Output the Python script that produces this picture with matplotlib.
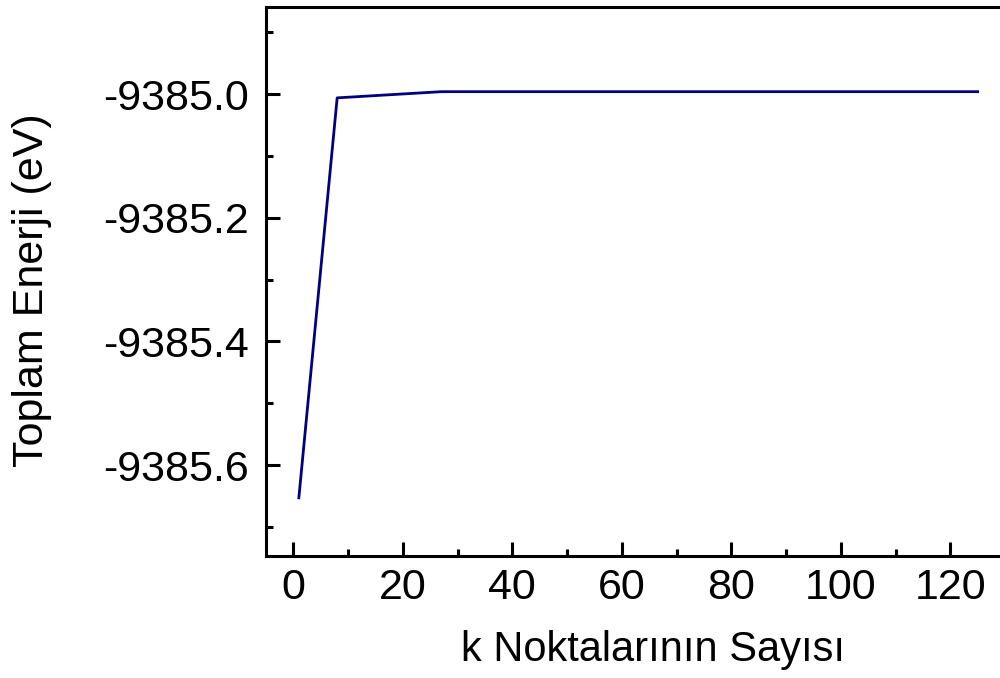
import matplotlib
matplotlib.use('Agg')
import matplotlib.pyplot as plt
from matplotlib.ticker import MultipleLocator, FormatStrFormatter

# toplam enerji vs k noktasi sayisi
k_points = [1, 8, 27, 64, 125]
energy = [-9385.653, -9385.006, -9384.996, -9384.996, -9384.996]

plt.rcParams['font.family'] = ['Liberation Sans', 'DejaVu Sans']

fig = plt.figure(figsize=(10, 6.78), dpi=100)
ax = fig.add_axes([0.266, 0.18, 0.739, 0.8097])

ax.plot(k_points, energy, color='#000080', linewidth=2.0)

ax.set_xlim(-5, 130)
ax.set_ylim(-9385.747, -9384.859)
ax.xaxis.set_major_locator(MultipleLocator(20))
ax.xaxis.set_minor_locator(MultipleLocator(10))
ax.yaxis.set_major_locator(MultipleLocator(0.2))
ax.yaxis.set_minor_locator(MultipleLocator(0.1))
ax.yaxis.set_major_formatter(FormatStrFormatter('%.1f'))

for s in ax.spines.values():
    s.set_linewidth(2.2)
ax.tick_params(which='major', direction='in', length=10, width=2.2, labelsize=31)
ax.tick_params(axis='x', which='major', pad=9)
ax.tick_params(axis='y', which='major', pad=12)
ax.tick_params(which='minor', direction='in', length=5, width=2.2)

ax.set_xlabel('k Noktalarının Sayısı', fontsize=30)
ax.set_ylabel('Toplam Enerji (eV)', fontsize=31)
# etiket konumlari (figure koordinatlari)
ax.xaxis.set_label_coords(0.653, 0.012, transform=fig.transFigure)
ax.xaxis.label.set_va('bottom')
ax.yaxis.set_label_coords(0.012, 0.572, transform=fig.transFigure)
ax.yaxis.label.set_ha('center')
ax.yaxis.label.set_va('top')

fig.savefig('out.png', dpi=100)
